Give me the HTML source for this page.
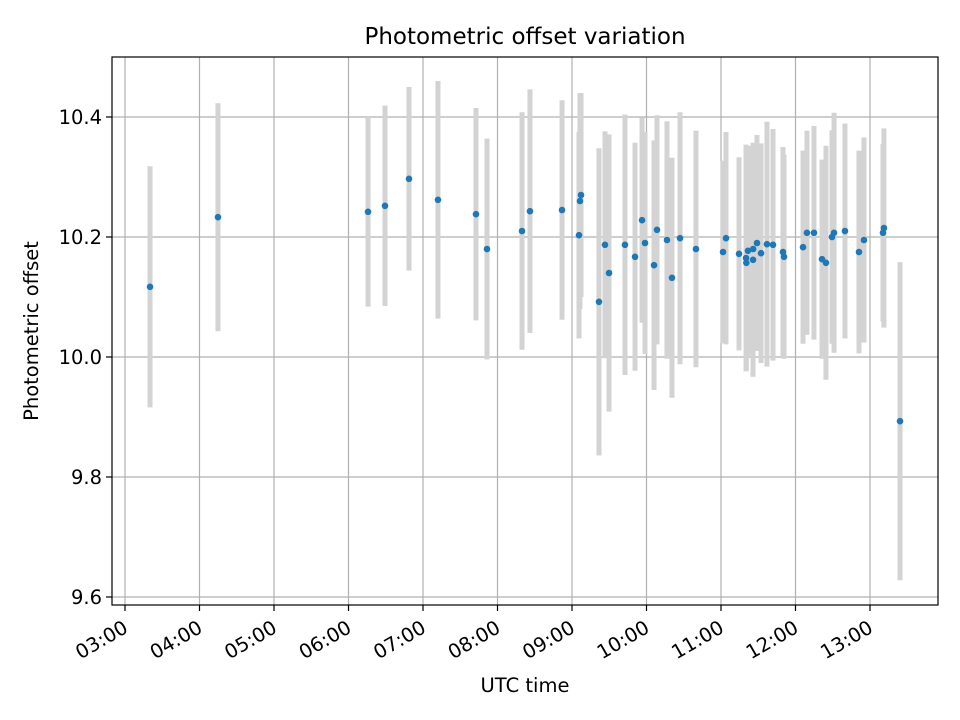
<!DOCTYPE html>
<html><head><meta charset="utf-8"><style>
html,body{margin:0;padding:0;background:#fff;}
svg{display:block;font-family:"DejaVu Sans","Liberation Sans",sans-serif;}
</style></head><body>
<svg id="chart" width="960" height="720" viewBox="0 0 960 720" xmlns="http://www.w3.org/2000/svg">
<rect x="0" y="0" width="960" height="720" fill="#fff"/>
<text x="525" y="44" text-anchor="middle" font-size="23">Photometric offset variation</text>
<text x="525" y="692" text-anchor="middle" font-size="19.5">UTC time</text>
<text transform="translate(38,331) rotate(-90)" text-anchor="middle" font-size="19.5">Photometric offset</text>
<g id="grid"></g><g id="errs"></g><g id="pts"></g><g id="axes"></g>
</svg>
<script>
const times = [3.336,4.248,6.262,6.490,6.812,7.201,7.711,7.859,8.329,8.436,8.866,9.094,9.107,9.121,9.362,9.443,9.497,9.711,9.846,9.940,9.980,10.101,10.141,10.275,10.342,10.450,10.664,11.027,11.067,11.242,11.336,11.340,11.362,11.430,11.432,11.483,11.537,11.617,11.698,11.832,11.846,12.101,12.154,12.248,12.356,12.409,12.490,12.517,12.664,12.852,12.919,13.174,13.187,13.403];
const offsets = [10.117,10.233,10.242,10.252,10.297,10.262,10.238,10.18,10.21,10.243,10.245,10.203,10.26,10.27,10.092,10.187,10.14,10.187,10.167,10.228,10.19,10.153,10.212,10.195,10.132,10.198,10.18,10.175,10.198,10.172,10.165,10.157,10.177,10.162,10.18,10.19,10.173,10.188,10.187,10.175,10.167,10.183,10.207,10.207,10.163,10.157,10.2,10.207,10.21,10.175,10.195,10.207,10.215,9.893];
const errors = [0.201,0.19,0.158,0.167,0.153,0.198,0.177,0.184,0.198,0.203,0.183,0.172,0.18,0.17,0.256,0.189,0.231,0.217,0.19,0.171,0.185,0.208,0.191,0.198,0.2,0.21,0.197,0.152,0.177,0.161,0.189,0.18,0.175,0.195,0.17,0.18,0.183,0.204,0.193,0.175,0.17,0.161,0.17,0.178,0.166,0.195,0.178,0.2,0.179,0.169,0.171,0.148,0.166,0.265];
const xTickHours = [3,4,5,6,7,8,9,10,11,12,13];
const xTickLabels = ["03:00","04:00","05:00","06:00","07:00","08:00","09:00","10:00","11:00","12:00","13:00"];
const yTickValues = [9.6,9.8,10.0,10.2,10.4];
const yTickLabels = ["9.6","9.8","10.0","10.2","10.4"];

const L=112,R=938,T=57,B=605;
const xScale=h=>125+(h-3)*74.5;
const yScale=v=>117+(10.4-v)*600;
const NS="http://www.w3.org/2000/svg";
function mk(tag,attrs,parent){const e=document.createElementNS(NS,tag);for(const k in attrs)e.setAttribute(k,attrs[k]);parent.appendChild(e);return e;}
const grid=document.getElementById('grid'),errs=document.getElementById('errs'),pts=document.getElementById('pts'),axes=document.getElementById('axes');

xTickHours.forEach((h,i)=>{
  const x=xScale(h);
  const g=mk('line',{x1:x,x2:x,y1:T,y2:B,stroke:'#b0b0b0','stroke-width':1.2},grid);
  
  
  const t=mk('line',{x1:x,x2:x,y1:B,y2:B+6,stroke:'#000','stroke-width':1.2},axes);
  
  
  const lb=mk('text',{transform:`translate(${x-3},${B+14}) rotate(-30)`,'text-anchor':'end','dominant-baseline':'hanging','font-size':19.5},axes);
  lb.textContent=xTickLabels[i];
  
  
});
yTickValues.forEach((v,i)=>{
  const y=yScale(v);
  const g=mk('line',{x1:L,x2:R,y1:y,y2:y,stroke:'#b0b0b0','stroke-width':1.2},grid);
  
  
  const t=mk('line',{x1:L-6,x2:L,y1:y,y2:y,stroke:'#000','stroke-width':1.2},axes);
  
  
  const lb=mk('text',{x:L-10,y:y+7,'text-anchor':'end','font-size':19.5},axes);
  lb.textContent=yTickLabels[i];
  
  
});
times.forEach((h,i)=>{
  const x=xScale(h);
  const e=mk('line',{x1:x,x2:x,y1:yScale(offsets[i]+errors[i]),y2:yScale(offsets[i]-errors[i]),stroke:'#d3d3d3','stroke-width':5},errs);
  
  
  const c=mk('circle',{cx:x,cy:yScale(offsets[i]),r:3.3,fill:'#1f77b4'},pts);
  
  
});
const fr=mk('rect',{x:L,y:T,width:R-L,height:B-T,fill:'none',stroke:'#000','stroke-width':1.2},axes);


</script>
</body></html>
